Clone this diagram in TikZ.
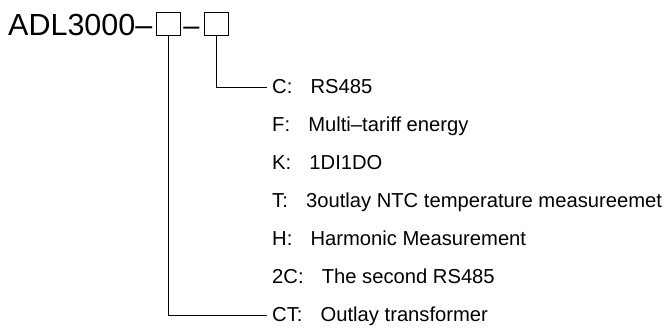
\documentclass[tikz,border=0pt]{standalone}
\usepackage{fontspec}
\setmainfont{Liberation Sans}

\begin{document}
\begin{tikzpicture}[x=1pt,y=-1pt,
  box/.style={draw,line width=0.8pt,minimum width=24pt,minimum height=23pt,inner sep=0pt},
  opt/.style={anchor=west,inner xsep=5pt,inner ysep=0pt,text height=12pt,text depth=0pt,
    font=\fontsize{20.2}{24}\selectfont},
  link/.style={line width=1pt}]
\useasboundingbox (0,0) rectangle (666,327);

% Model code
\node[anchor=base west,inner sep=0pt,font=\fontsize{30.5}{32}\selectfont] (model) at (8,35) {ADL3000–};
\node[box] (b1) at (168,23.5) {};
\node[anchor=base,inner sep=0pt,font=\fontsize{29}{32}\selectfont] (dash) at (191.5,35) {–};
\node[box] (b2) at (216.5,23.5) {};

% Options
\node[opt] (c) at (267,87.5) {C:\hspace{.9em}RS485};
\node[opt] (f) at (267,125.4) {F:\hspace{.9em}Multi–tariff energy};
\node[opt] (k) at (267,163.3) {K:\hspace{.9em}1DI1DO};
\node[opt] (t) at (267,201.3) {T:\hspace{.9em}3outlay NTC temperature measureemet};
\node[opt] (h) at (267,239.2) {H:\hspace{.9em}Harmonic Measurement};
\node[opt] (twoc) at (267,277.1) {2C:\hspace{.9em}The second RS485};
\node[opt] (ct) at (267,315) {CT:\hspace{.9em}Outlay transformer};

% Connectors
\draw[link] (b2.south) |- (c.west);
\draw[link] (b1.south) |- (ct.west);

\end{tikzpicture}
\end{document}
